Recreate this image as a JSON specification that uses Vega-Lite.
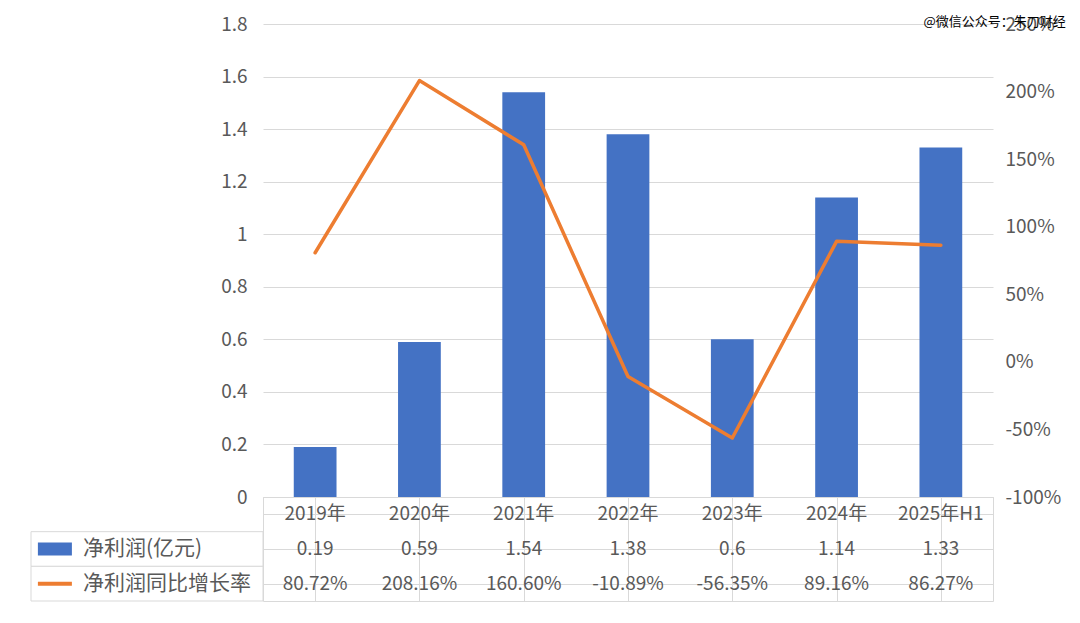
{
  "$schema": "https://vega.github.io/schema/vega-lite/v6.json",
  "background": "white",
  "padding": {"left": 30, "top": 15, "right": 5, "bottom": 5},
  "config": {
    "locale": {"number": {"decimal": ".", "thousands": ",", "grouping": [3], "currency": ["$", ""], "minus": "-"}},
    "font": "Noto Sans CJK SC",
    "view": {"stroke": null},
    "axis": {"labelFont": "Noto Sans CJK SC", "labelFontSize": 19, "labelColor": "#595959"}
  },
  "datasets": {
    "main": [
      {"period": "2019年", "profit": 0.19, "growth": 0.8072},
      {"period": "2020年", "profit": 0.59, "growth": 2.0816},
      {"period": "2021年", "profit": 1.54, "growth": 1.606},
      {"period": "2022年", "profit": 1.38, "growth": -0.1089},
      {"period": "2023年", "profit": 0.6, "growth": -0.5635},
      {"period": "2024年", "profit": 1.14, "growth": 0.8916},
      {"period": "2025年H1", "profit": 1.33, "growth": 0.8627}
    ],
    "series": [
      {"series": "净利润(亿元)"},
      {"series": "净利润同比增长率"}
    ]
  },
  "columns": 2,
  "spacing": 0,
  "bounds": "flush",
  "resolve": {"scale": {"x": "independent", "y": "independent", "color": "independent", "shape": "independent"}},
  "concat": [
    {
      "width": 232,
      "height": 473,
      "data": {"values": []},
      "mark": "point",
      "encoding": {}
    },
    {
      "width": 730,
      "height": 473,
      "data": {"name": "main"},
      "title": {"text": "@微信公众号：朱刀财经", "anchor": "end", "fontSize": 13, "fontWeight": "normal", "color": "#000000", "offset": -14, "dx": 5, "font": "Noto Sans CJK SC"},
      "encoding": {
        "x": {
          "field": "period", "type": "nominal", "sort": null,
          "scale": {"paddingInner": 0.59, "paddingOuter": 0.295},
          "axis": {"labels": false, "ticks": false, "domain": true, "domainColor": "#d9d9d9", "domainWidth": 1, "title": null, "grid": false}
        }
      },
      "layer": [
        {
          "mark": {"type": "bar", "color": "#4472C4"},
          "encoding": {
            "y": {
              "field": "profit", "type": "quantitative",
              "scale": {"domain": [0, 1.8], "nice": false, "zero": true},
              "axis": {"values": [0, 0.2, 0.4, 0.6, 0.8, 1, 1.2, 1.4, 1.6, 1.8], "format": "~g", "grid": true, "gridColor": "#d9d9d9", "domain": false, "ticks": false, "labelPadding": 16, "title": null}
            }
          }
        },
        {
          "mark": {"type": "line", "color": "#ED7D31", "strokeWidth": 3.5, "strokeJoin": "round", "strokeCap": "round"},
          "encoding": {
            "y": {
              "field": "growth", "type": "quantitative",
              "scale": {"domain": [-1, 2.5], "nice": false, "zero": false},
              "axis": {"orient": "right", "values": [-1, -0.5, 0, 0.5, 1, 1.5, 2, 2.5], "format": ".0%", "grid": false, "domain": false, "ticks": false, "labelPadding": 12, "title": null}
            }
          }
        }
      ],
      "resolve": {"scale": {"y": "independent"}}
    },
    {
      "width": 232,
      "height": 104,
      "data": {"name": "series"},
      "encoding": {
        "y": {
          "field": "series", "type": "nominal",
          "scale": {"domain": ["header", "净利润(亿元)", "净利润同比增长率"], "paddingInner": 0, "paddingOuter": 0},
          "axis": null
        }
      },
      "layer": [
        {
          "mark": {"type": "rect", "fill": "white", "stroke": "#d9d9d9", "strokeWidth": 1},
          "encoding": {
            "x": {"datum": 0, "type": "quantitative", "scale": {"domain": [0, 1]}, "axis": null},
            "x2": {"datum": 1}
          }
        },
        {
          "mark": {"type": "point", "filled": true, "size": 1156, "opacity": 1, "strokeWidth": 0},
          "encoding": {
            "x": {"datum": 0.103, "type": "quantitative"},
            "shape": {"field": "series", "type": "nominal", "scale": {"domain": ["净利润(亿元)", "净利润同比增长率"], "range": ["M-1,-0.38H1V0.38H-1Z", "M-1,-0.12H1V0.12H-1Z"]}, "legend": null},
            "color": {"field": "series", "type": "nominal", "scale": {"domain": ["净利润(亿元)", "净利润同比增长率"], "range": ["#4472C4", "#ED7D31"]}, "legend": null}
          }
        },
        {
          "mark": {"type": "text", "align": "left", "baseline": "middle", "fontSize": 21, "color": "#595959"},
          "encoding": {
            "x": {"datum": 0.224, "type": "quantitative"},
            "text": {"field": "series", "type": "nominal"}
          }
        }
      ]
    },
    {
      "width": 730,
      "height": 104,
      "data": {"name": "main"},
      "view": {"stroke": "#d9d9d9"},
      "encoding": {
        "x": {
          "field": "period", "type": "nominal", "sort": null,
          "scale": {"paddingInner": 0, "paddingOuter": 0},
          "axis": {"bandPosition": 0, "grid": true, "gridColor": "#d9d9d9", "labels": false, "ticks": false, "domain": false, "title": null}
        }
      },
      "layer": [
        {
          "mark": {"type": "text", "fontSize": 19, "color": "#595959", "baseline": "middle"},
          "encoding": {
            "y": {"datum": "header", "type": "nominal", "scale": {"domain": ["header", "净利润(亿元)", "净利润同比增长率"], "paddingInner": 0, "paddingOuter": 0}, "axis": {"bandPosition": 0, "grid": true, "gridColor": "#d9d9d9", "labels": false, "ticks": false, "domain": false, "title": null}},
            "text": {"field": "period", "type": "nominal"}
          }
        },
        {
          "mark": {"type": "text", "fontSize": 19, "color": "#595959", "baseline": "middle"},
          "encoding": {
            "y": {"datum": "净利润(亿元)", "type": "nominal", "axis": {"bandPosition": 0, "grid": true, "gridColor": "#d9d9d9", "labels": false, "ticks": false, "domain": false, "title": null}},
            "text": {"field": "profit", "type": "quantitative", "format": "~g"}
          }
        },
        {
          "mark": {"type": "text", "fontSize": 19, "color": "#595959", "baseline": "middle"},
          "encoding": {
            "y": {"datum": "净利润同比增长率", "type": "nominal", "axis": {"bandPosition": 0, "grid": true, "gridColor": "#d9d9d9", "labels": false, "ticks": false, "domain": false, "title": null}},
            "text": {"field": "growth", "type": "quantitative", "format": ".2%"}
          }
        }
      ]
    }
  ]
}
